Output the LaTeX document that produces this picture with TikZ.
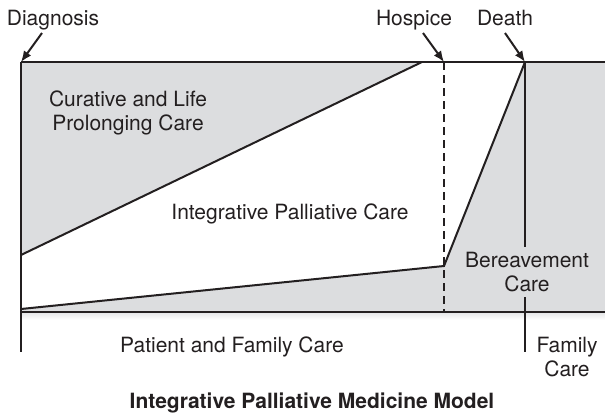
\documentclass[tikz,border=0pt]{standalone}
\usepackage{fontspec}
\setmainfont{TeX Gyre Heros}
\usetikzlibrary{arrows.meta,positioning,calc}
\definecolor{caregray}{RGB}{220,221,223}
\definecolor{inkgray}{RGB}{35,31,32}

\begin{document}
\begin{tikzpicture}[x=1pt,y=-1pt,>={Latex[length=11pt,width=9pt]}]
%\draw[gray,very thin] (0,0) grid (605,415);
\tikzstyle{lbl} = [font=\fontsize{21}{23.5}\selectfont, text=inkgray, inner sep=0pt, align=center]
\tikzstyle{frame} = [draw=inkgray, line width=2pt]
\tikzstyle{tick} = [draw=inkgray, line width=1.4pt]
\useasboundingbox (0,0) rectangle (605,415);
%Corner points of the time line
\coordinate (diag) at (21,62);
\coordinate (hosp) at (444,62);
\coordinate (death) at (525,62);
\coordinate (cureend) at (422,62);
\coordinate (topright) at (605,62);
\coordinate (diagbot) at (21,312);
\coordinate (hospbot) at (444,312);
\coordinate (deathbot) at (525,312);
\coordinate (botright) at (605,312);
\coordinate (curestart) at (21,255);
\coordinate (palstart) at (21,309);
\coordinate (palend) at (444,266);
\coordinate (diagtick) at (21,352);
\coordinate (famtick) at (525,352);
%Regions
\fill[caregray] (diag) rectangle (botright);
\shade[top color=caregray!70, bottom color=white] (21,313) rectangle (605,320);
\fill[white] (curestart) -- (cureend) -- (death) -- (palend) -- (palstart) -- cycle;
%Labels
\node[lbl, anchor=base] (diagnosis) at (53,25) {Diagnosis};
\node[lbl, anchor=base] (hospice) at (414,25) {Hospice};
\node[lbl, anchor=base] (deathlbl) at (505,25) {Death};
\node[lbl] (curative) at (128,113) {Curative and Life\\Prolonging Care};
\node[lbl, anchor=base] (palliative) at (290,219) {Integrative Palliative Care};
\node[lbl, inner sep=5pt] (bereave) at (527,272) {Bereavement\\Care};
\node[lbl, anchor=base] (patient) at (232,352) {Patient and Family Care};
\node[lbl] (family) at (567,357) {Family\\Care};
\node[lbl, anchor=base, font=\fontsize{21}{23}\selectfont\bfseries] (model) at (312,408) {Integrative Palliative Medicine Model};
%Arrow tails
\coordinate (diagtail) at (42,33);
\coordinate (hosptail) at (423,33);
\coordinate (deathtail) at (505,33);
\begin{scope}[line width=2pt, draw=inkgray]
\draw[frame] (diag) -- (topright);
\draw[frame] (diagbot) -- (botright);
\draw[frame] (diag) -- (diagbot);
\draw[frame] (curestart) -- (cureend);
\draw[frame] (palstart) -- (palend) -- (death);
\draw[frame, dash pattern=on 8pt off 5pt] (hosp) -- (hospbot);
\draw[tick] (death) -- (bereave.north -| death);
\draw[tick] (bereave.south -| death) -- (famtick);
\draw[tick] (diagbot) -- (diagtick);
\draw[->, inkgray] (diagtail) -- (diag);
\draw[->, inkgray] (hosptail) -- (hosp);
\draw[->, inkgray] (deathtail) -- (death);
\end{scope}

\end{tikzpicture}
\end{document}
